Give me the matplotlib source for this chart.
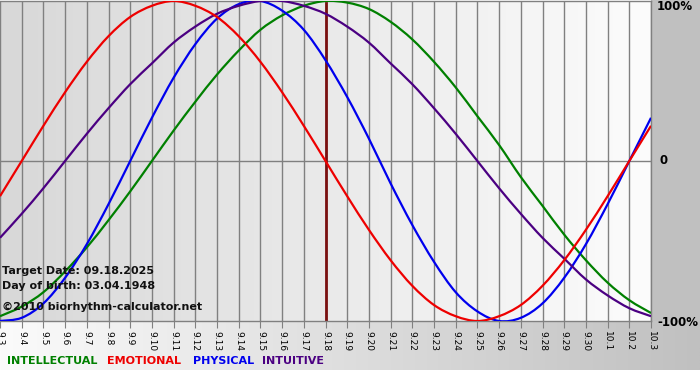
import numpy as np
import matplotlib.pyplot as plt
from matplotlib.colors import LinearSegmentedColormap
from matplotlib.path import Path
from matplotlib.patches import PathPatch

# dates on the x axis (9.3 .. 10.3)
dates = ['9.%d' % d for d in range(3, 31)] + ['10.1', '10.2', '10.3']
target_idx = 15  # 9.18

# values, one per day (-1 .. 1)
intellectual = [-0.97, -0.91, -0.82, -0.69, -0.54, -0.37, -0.19, 0.0, 0.19, 0.37,
                0.54, 0.69, 0.82, 0.91, 0.97, 1.0, 0.99, 0.95, 0.87, 0.76,
                0.62, 0.46, 0.28, 0.10, -0.10, -0.28, -0.46, -0.62, -0.76, -0.87,
                -0.95]
emotional = [-0.22, 0.0, 0.22, 0.43, 0.62, 0.78, 0.90, 0.97, 1.0, 0.97,
             0.90, 0.78, 0.62, 0.43, 0.22, 0.0, -0.22, -0.43, -0.62, -0.78,
             -0.90, -0.97, -1.0, -0.97, -0.90, -0.78, -0.62, -0.43, -0.22, 0.0,
             0.22]
physical = [-1.0, -0.98, -0.89, -0.73, -0.52, -0.27, 0.0, 0.27, 0.52, 0.73,
            0.89, 0.98, 1.0, 0.94, 0.82, 0.63, 0.40, 0.14, -0.14, -0.40,
            -0.63, -0.82, -0.94, -1.0, -0.98, -0.89, -0.73, -0.52, -0.27, 0.0,
            0.27]
intuitive = [-0.48, -0.33, -0.17, 0.0, 0.17, 0.33, 0.48, 0.61, 0.74, 0.84,
             0.92, 0.97, 1.0, 1.0, 0.97, 0.92, 0.84, 0.74, 0.61, 0.48,
             0.33, 0.17, 0.0, -0.17, -0.33, -0.48, -0.61, -0.74, -0.84, -0.92,
             -0.97]

series = [
    (intellectual, '#008000', 'INTELLECTUAL'),
    (physical, '#0000ee', 'PHYSICAL'),
    (intuitive, '#4b0082', 'INTUITIVE'),
    (emotional, '#ee0000', 'EMOTIONAL'),
]


def smooth_path(xs, ys):
    # catmull-rom through the daily points, drawn as cubic beziers
    pts = np.column_stack([xs, ys]).astype(float)
    ext = np.vstack([pts[0], pts, pts[-1]])
    verts = [pts[0]]
    codes = [Path.MOVETO]
    for i in range(len(pts) - 1):
        p0, p1, p2, p3 = ext[i], ext[i + 1], ext[i + 2], ext[i + 3]
        verts += [p1 + (p2 - p0) / 6, p2 - (p3 - p1) / 6, p2]
        codes += [Path.CURVE4] * 3
    return Path(verts, codes)


W, H = 700, 380
fig = plt.figure(figsize=(7, 3.8), dpi=100)
fig.patch.set_facecolor('white')

# background panel (pixel coordinates)
bg = fig.add_axes([0, 0, 1, 1])
bg.set_xlim(0, W)
bg.set_ylim(H, 0)
bg.axis('off')
grad = np.linspace(0, 1, 256).reshape(1, -1)
strip = LinearSegmentedColormap.from_list('strip', ['#fbfbfb', '#c0c0c0'])
bg.imshow(grad, cmap=strip, extent=(0, W, 370, 321), aspect='auto')
bg.add_patch(plt.Rectangle((651, 0), W - 651, 321, color='#c0c0c0', lw=0))

# main plot
ax = fig.add_axes([0, 1 - 321 / H, 651 / W, 320 / H])
x = np.arange(len(dates))
ax.set_xlim(0, len(dates) - 1)
ax.set_ylim(-1, 1)
plotbg = LinearSegmentedColormap.from_list('plotbg', ['#d8d8d8', '#fcfcfc'])
ax.imshow(grad, cmap=plotbg, extent=(0, len(dates) - 1, -1, 1), aspect='auto', zorder=0)

for xi in x:
    ax.axvline(xi, color='#808080', lw=1, zorder=1)
ax.axhline(0, color='#808080', lw=1, zorder=1)

for vals, col, name in series:
    ax.add_patch(PathPatch(smooth_path(x, vals), fill=False, edgecolor=col, lw=1.6, zorder=3))

ax.axvline(target_idx, color='#7a1010', lw=2, zorder=2)

ax.set_xticks(x)
ax.set_xticklabels(dates, rotation=270, fontsize=6.5)
ax.tick_params(axis='x', length=5, color='#808080', pad=2)
ax.set_yticks([])
ax.spines['left'].set_visible(False)
for s in ['top', 'bottom', 'right']:
    ax.spines[s].set_color('#808080')
    ax.spines[s].set_linewidth(1)

# right side percent labels
fig.text(657 / W, 1 - 7 / H, '100%', fontsize=8.5, fontweight='bold', va='center', ha='left')
fig.text(660 / W, 1 - 161 / H, '0', fontsize=8.5, fontweight='bold', va='center', ha='left')
fig.text(657 / W, 1 - 322 / H, '-100%', fontsize=8.5, fontweight='bold', va='center', ha='left')

# info text
info = ['Target Date: 09.18.2025', 'Day of birth: 03.04.1948', '\u00a92010 biorhythm-calculator.net']
for txt, yy in zip(info, [271, 286, 307]):
    fig.text(2 / W, 1 - yy / H, txt, fontsize=8, fontweight='bold', color='#111111', va='center', ha='left')

# legend
leg_x = {'INTELLECTUAL': 7, 'EMOTIONAL': 107, 'PHYSICAL': 193, 'INTUITIVE': 262}
for vals, col, name in series:
    fig.text(leg_x[name] / W, 1 - 361 / H, name, fontsize=8, fontweight='bold', color=col, va='center', ha='left')

fig.savefig('out.png', dpi=100)
